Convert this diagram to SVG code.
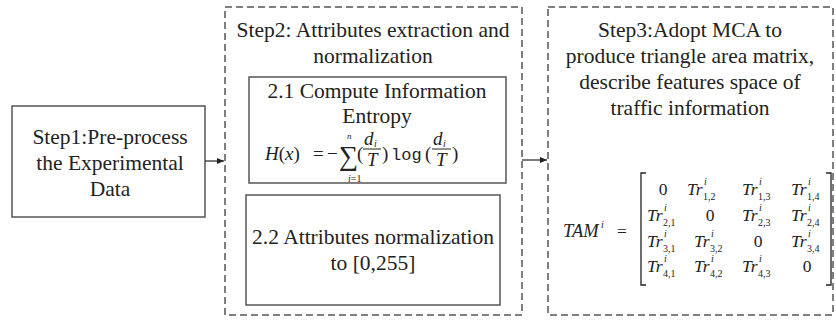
<svg xmlns="http://www.w3.org/2000/svg" width="836" height="322" viewBox="0 0 836 322" font-family="'Liberation Serif', 'DejaVu Serif', serif">
<defs>
<style>
text{font-family:'Liberation Serif','DejaVu Serif',serif;fill:#222}
.box{fill:#fff;stroke:#555;stroke-width:1.5}
.dash{fill:none;stroke:#555;stroke-width:1.5;stroke-dasharray:7,4}
.t{font-size:21.5px;text-anchor:middle}
.m{font-size:19px}
.mx{font-size:17.5px}
.mi{font-style:italic}
.s{font-size:10px}
.c{text-anchor:middle}
.conn{stroke:#333;stroke-width:1.3;fill:none}
</style>
<marker id="arr" markerWidth="8" markerHeight="8" refX="7" refY="4" orient="auto" markerUnits="userSpaceOnUse">
<path d="M0,1 L7,4 L0,7 Z" fill="#222"/>
</marker>
</defs>
<rect width="836" height="322" fill="#fff"/>

<g id="step1">
<rect class="box" x="12" y="106" width="193" height="111"/>
<text class="t" x="110" y="144">Step1:Pre-process</text>
<text class="t" x="110" y="170">the Experimental</text>
<text class="t" x="110" y="196">Data</text>
</g>

<g id="step2">
<rect class="dash" x="225" y="7" width="297" height="308"/>
<text class="t" x="373" y="37">Step2: Attributes extraction and</text>
<text class="t" x="373" y="63">normalization</text>
</g>

<g id="step2-1">
<rect class="box" x="249" y="77" width="257" height="106"/>
<text class="t" x="377" y="98">2.1 Compute Information</text>
<text class="t" x="377" y="123">Entropy</text>
<text x="265" y="160" class="m"><tspan class="mi">H</tspan>(<tspan class="mi">x</tspan>)</text>
<text x="313" y="160" class="m">=</text>
<text x="327" y="160" class="m">−</text>
<text x="339" y="165" style="font-size:27px">∑</text>
<text x="347" y="139" class="mi" style="font-size:9px">n</text>
<text x="348" y="182" style="font-size:10px"><tspan class="mi">i</tspan>=1</text>
<text x="357" y="160" class="m">(</text>
<text x="364" y="145" class="m mi">d</text>
<text x="374" y="147" class="s mi">i</text>
<line x1="363" y1="149" x2="381" y2="149" stroke="#222" stroke-width="1"/>
<text x="367" y="166" class="m mi">T</text>
<text x="382" y="160" class="m">)</text>
<text x="391" y="160" style="font-family:'Liberation Mono',monospace;font-size:17px">log</text>
<text x="425" y="160" class="m">(</text>
<text x="433" y="145" class="m mi">d</text>
<text x="443" y="147" class="s mi">i</text>
<line x1="432" y1="149" x2="451" y2="149" stroke="#222" stroke-width="1"/>
<text x="436" y="166" class="m mi">T</text>
<text x="452" y="160" class="m">)</text>
</g>

<g id="step2-2">
<rect class="box" x="246" y="195" width="254" height="110"/>
<text class="t" x="373" y="244">2.2 Attributes normalization</text>
<text class="t" x="373" y="270">to [0,255]</text>
</g>

<g id="step3">
<rect class="dash" x="548" y="7" width="285" height="308"/>
<text class="t" x="690" y="37">Step3:Adopt MCA to</text>
<text class="t" x="690" y="63">produce triangle area matrix,</text>
<text class="t" x="690" y="89">describe features space of</text>
<text class="t" x="690" y="115">traffic information</text>
<g id="matrix">
<text x="563" y="237" class="mi" style="font-size:18.5px">TAM</text>
<text x="601" y="228" class="s mi">i</text>
<text x="617" y="237" class="mx">=</text>
<path d="M646,173 L641,173 L641,285 L646,285" stroke="#222" stroke-width="1.3" fill="none"/>
<path d="M826,173 L831,173 L831,285 L826,285" stroke="#222" stroke-width="1.3" fill="none"/>

<text x="663" y="195" class="mx c">0</text>
<text x="687" y="195" class="mx mi">Tr</text><text x="704" y="185" class="s mi">i</text><text x="703" y="200" class="s">1,2</text>
<text x="742" y="195" class="mx mi">Tr</text><text x="759" y="185" class="s mi">i</text><text x="758" y="200" class="s">1,3</text>
<text x="791" y="195" class="mx mi">Tr</text><text x="808" y="185" class="s mi">i</text><text x="807" y="200" class="s">1,4</text>

<text x="647" y="221" class="mx mi">Tr</text><text x="664" y="211" class="s mi">i</text><text x="663" y="226" class="s">2,1</text>
<text x="710" y="221" class="mx c">0</text>
<text x="742" y="221" class="mx mi">Tr</text><text x="759" y="211" class="s mi">i</text><text x="758" y="226" class="s">2,3</text>
<text x="791" y="221" class="mx mi">Tr</text><text x="808" y="211" class="s mi">i</text><text x="807" y="226" class="s">2,4</text>

<text x="647" y="247" class="mx mi">Tr</text><text x="664" y="237" class="s mi">i</text><text x="663" y="252" class="s">3,1</text>
<text x="694" y="247" class="mx mi">Tr</text><text x="711" y="237" class="s mi">i</text><text x="710" y="252" class="s">3,2</text>
<text x="758" y="247" class="mx c">0</text>
<text x="791" y="247" class="mx mi">Tr</text><text x="808" y="237" class="s mi">i</text><text x="807" y="252" class="s">3,4</text>

<text x="647" y="272" class="mx mi">Tr</text><text x="664" y="262" class="s mi">i</text><text x="663" y="277" class="s">4,1</text>
<text x="694" y="272" class="mx mi">Tr</text><text x="711" y="262" class="s mi">i</text><text x="710" y="277" class="s">4,2</text>
<text x="742" y="272" class="mx mi">Tr</text><text x="759" y="262" class="s mi">i</text><text x="758" y="277" class="s">4,3</text>
<text x="807" y="272" class="mx c">0</text>
</g>
</g>

<g id="connectors">
<line class="conn" x1="205" y1="161" x2="224" y2="161" marker-end="url(#arr)"/>
<line class="conn" x1="522" y1="160" x2="547" y2="160" marker-end="url(#arr)"/>
</g>
</svg>
